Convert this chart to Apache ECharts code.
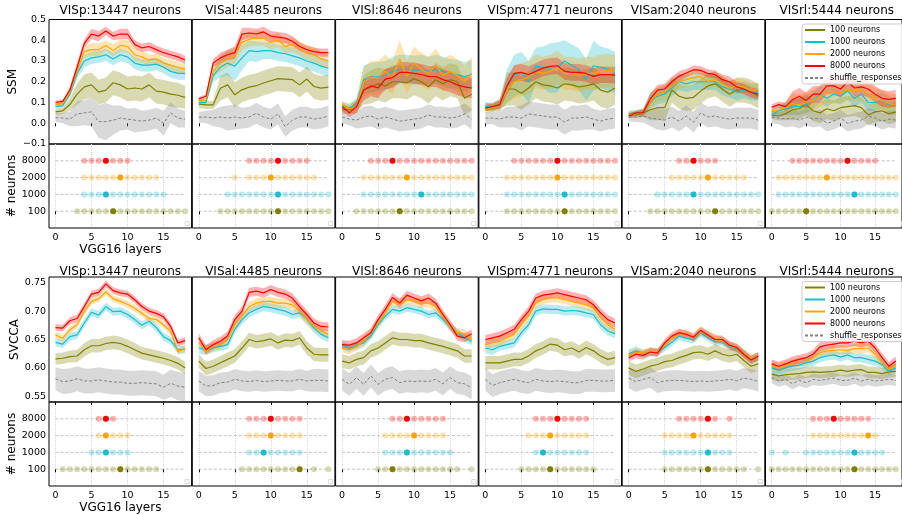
<!DOCTYPE html>
<html><head><meta charset="utf-8">
<script src="https://cdn.jsdelivr.net/npm/echarts@6/dist/echarts.min.js"></script>
<style>html,body{margin:0;padding:0;background:#fff}#c{width:902px;height:515px}</style>
</head><body><div id="c"></div>
<script>
// ---------- shared labels ----------
const layers = [0,1,2,3,4,5,6,7,8,9,10,11,12,13,14,15,16,17,18];
const xTicks = [0,5,10,15];
const sizeLabels = ['100','1000','2000','8000'];
const lineNames = ['100 neurons','1000 neurons','2000 neurons','8000 neurons','shuffle_responses'];
const areaTitles = ['VISp:13447 neurons','VISal:4485 neurons','VISl:8646 neurons','VISpm:4771 neurons','VISam:2040 neurons','VISrl:5444 neurons'];
const ssmTicks = [-0.1,0.0,0.1,0.2,0.3,0.4,0.5];
const svccaTicks = [0.55,0.60,0.65,0.70,0.75];

// ---------- SSM (rows: 100, 1000, 2000, 8000, shuffle) ----------
const ssmMean_VISp = [
 [0.055,0.06,0.09,0.14,0.175,0.185,0.15,0.16,0.195,0.185,0.165,0.17,0.165,0.185,0.155,0.15,0.14,0.135,0.125],
 [0.08,0.085,0.14,0.24,0.30,0.315,0.32,0.33,0.31,0.33,0.32,0.29,0.28,0.28,0.285,0.27,0.25,0.24,0.24],
 [0.09,0.095,0.15,0.25,0.345,0.355,0.355,0.375,0.35,0.375,0.37,0.33,0.32,0.305,0.31,0.29,0.28,0.27,0.26],
 [0.10,0.105,0.16,0.27,0.385,0.43,0.42,0.445,0.42,0.43,0.43,0.38,0.363,0.37,0.355,0.34,0.33,0.32,0.305],
 [0.027,0.025,0.02,0.045,0.05,0.055,0.008,0.008,0.015,0.025,0.02,0.015,0.01,0.015,0.025,0.0,0.05,0.025,0.02]];
const ssmSd_VISp = [
 [0.015,0.015,0.03,0.05,0.06,0.06,0.06,0.06,0.06,0.06,0.06,0.06,0.06,0.06,0.06,0.06,0.06,0.06,0.055],
 [0.01,0.01,0.015,0.025,0.03,0.03,0.03,0.03,0.03,0.03,0.03,0.03,0.03,0.03,0.03,0.03,0.03,0.03,0.03],
 [0.01,0.01,0.015,0.025,0.03,0.03,0.03,0.025,0.03,0.03,0.03,0.03,0.03,0.025,0.025,0.025,0.025,0.025,0.025],
 [0.01,0.01,0.015,0.02,0.02,0.025,0.025,0.02,0.02,0.025,0.025,0.02,0.02,0.02,0.02,0.02,0.02,0.02,0.02],
 [0.02,0.025,0.035,0.06,0.06,0.07,0.08,0.09,0.07,0.06,0.05,0.06,0.05,0.05,0.05,0.06,0.05,0.045,0.04]];
const ssmMean_VISal = [
 [0.092,0.089,0.089,0.169,0.185,0.137,0.161,0.174,0.181,0.194,0.205,0.215,0.213,0.21,0.185,0.213,0.177,0.169,0.174],
 [0.10,0.10,0.23,0.27,0.29,0.275,0.315,0.35,0.345,0.35,0.35,0.34,0.335,0.325,0.315,0.30,0.29,0.275,0.265],
 [0.11,0.113,0.25,0.29,0.31,0.325,0.39,0.405,0.41,0.41,0.39,0.40,0.37,0.38,0.36,0.34,0.33,0.31,0.30],
 [0.118,0.13,0.29,0.315,0.33,0.34,0.43,0.435,0.43,0.44,0.42,0.415,0.41,0.395,0.37,0.355,0.345,0.34,0.34],
 [0.029,0.03,0.025,0.03,0.025,0.03,0.025,0.03,0.048,0.03,0.02,0.045,-0.016,0.015,0.03,0.03,0.02,0.025,0.035]];
const ssmSd_VISal = [
 [0.02,0.02,0.02,0.06,0.06,0.06,0.06,0.06,0.06,0.06,0.06,0.06,0.06,0.06,0.06,0.06,0.06,0.06,0.06],
 [0.01,0.01,0.03,0.05,0.06,0.07,0.06,0.05,0.05,0.04,0.04,0.04,0.04,0.04,0.04,0.04,0.04,0.04,0.04],
 [0.01,0.01,0.03,0.04,0.04,0.04,0.04,0.035,0.035,0.035,0.035,0.035,0.035,0.035,0.035,0.035,0.035,0.035,0.035],
 [0.01,0.01,0.02,0.025,0.025,0.03,0.03,0.025,0.025,0.025,0.025,0.025,0.025,0.025,0.02,0.02,0.02,0.02,0.02],
 [0.025,0.03,0.04,0.05,0.06,0.06,0.05,0.05,0.05,0.05,0.05,0.05,0.05,0.05,0.05,0.05,0.05,0.05,0.05]];
const ssmMean_VISl = [
 [0.065,0.065,0.08,0.16,0.175,0.19,0.18,0.20,0.20,0.195,0.215,0.20,0.175,0.21,0.19,0.21,0.20,0.12,0.14],
 [0.08,0.075,0.09,0.21,0.22,0.225,0.23,0.25,0.26,0.26,0.255,0.26,0.25,0.26,0.25,0.24,0.235,0.225,0.235],
 [0.09,0.07,0.08,0.20,0.22,0.22,0.25,0.22,0.31,0.225,0.29,0.26,0.24,0.28,0.23,0.25,0.23,0.20,0.24],
 [0.08,0.05,0.08,0.16,0.18,0.17,0.213,0.22,0.245,0.245,0.24,0.235,0.226,0.225,0.21,0.20,0.185,0.175,0.17],
 [0.03,0.02,0.015,0.03,0.035,0.02,0.03,0.02,0.01,0.015,0.02,0.025,0.04,0.03,0.03,0.025,0.03,0.045,0.02]];
const ssmSd_VISl = [
 [0.02,0.02,0.03,0.07,0.08,0.08,0.08,0.08,0.08,0.08,0.08,0.08,0.08,0.08,0.08,0.08,0.08,0.08,0.08],
 [0.02,0.02,0.03,0.07,0.07,0.07,0.07,0.07,0.07,0.07,0.07,0.07,0.07,0.07,0.07,0.07,0.07,0.07,0.07],
 [0.02,0.02,0.03,0.07,0.08,0.08,0.08,0.08,0.09,0.08,0.08,0.08,0.08,0.08,0.08,0.08,0.08,0.08,0.08],
 [0.02,0.02,0.03,0.05,0.05,0.05,0.05,0.05,0.05,0.05,0.05,0.05,0.05,0.05,0.05,0.05,0.05,0.05,0.05],
 [0.03,0.03,0.04,0.05,0.05,0.05,0.05,0.05,0.05,0.05,0.05,0.05,0.05,0.05,0.05,0.05,0.05,0.05,0.05]];
const ssmMean_VISpm = [
 [0.08,0.075,0.09,0.165,0.165,0.145,0.17,0.20,0.185,0.18,0.17,0.19,0.185,0.175,0.18,0.19,0.16,0.15,0.17],
 [0.08,0.08,0.09,0.18,0.23,0.245,0.20,0.275,0.27,0.265,0.27,0.30,0.28,0.26,0.21,0.277,0.27,0.26,0.245],
 [0.07,0.075,0.09,0.16,0.20,0.21,0.22,0.25,0.24,0.25,0.27,0.24,0.24,0.23,0.24,0.24,0.25,0.255,0.25],
 [0.073,0.08,0.09,0.18,0.24,0.245,0.235,0.25,0.266,0.274,0.277,0.25,0.245,0.245,0.24,0.226,0.234,0.234,0.232],
 [0.025,0.025,0.02,0.03,0.03,0.025,0.045,0.04,0.035,0.03,0.03,0.005,0.025,0.025,0.03,0.02,0.01,0.02,0.025]];
const ssmSd_VISpm = [
 [0.02,0.02,0.02,0.08,0.08,0.08,0.08,0.08,0.08,0.08,0.08,0.08,0.08,0.08,0.08,0.08,0.08,0.08,0.08],
 [0.02,0.02,0.03,0.08,0.10,0.10,0.10,0.09,0.10,0.12,0.12,0.10,0.10,0.10,0.10,0.12,0.10,0.10,0.10],
 [0.02,0.02,0.03,0.06,0.08,0.08,0.08,0.08,0.08,0.08,0.08,0.08,0.08,0.08,0.08,0.08,0.08,0.08,0.08],
 [0.015,0.015,0.02,0.04,0.04,0.04,0.04,0.04,0.04,0.04,0.04,0.04,0.04,0.04,0.04,0.04,0.04,0.04,0.04],
 [0.03,0.03,0.04,0.05,0.05,0.06,0.06,0.06,0.06,0.06,0.06,0.06,0.06,0.06,0.06,0.05,0.05,0.05,0.05]];
const ssmMean_VISam = [
 [0.04,0.04,0.05,0.065,0.075,0.075,0.16,0.13,0.12,0.125,0.155,0.18,0.19,0.165,0.14,0.16,0.16,0.15,0.13],
 [0.045,0.05,0.05,0.11,0.13,0.14,0.17,0.20,0.19,0.20,0.20,0.20,0.20,0.175,0.165,0.15,0.16,0.15,0.15],
 [0.04,0.045,0.05,0.11,0.14,0.15,0.18,0.20,0.21,0.22,0.225,0.20,0.21,0.19,0.17,0.18,0.175,0.16,0.16],
 [0.035,0.05,0.05,0.118,0.16,0.165,0.20,0.226,0.242,0.258,0.255,0.24,0.234,0.21,0.20,0.175,0.165,0.148,0.14],
 [0.03,0.03,0.035,0.025,0.02,0.015,0.03,0.01,0.035,0.005,0.05,0.03,0.035,0.025,0.02,0.025,0.025,0.025,0.015]];
const ssmSd_VISam = [
 [0.015,0.015,0.02,0.05,0.06,0.06,0.06,0.06,0.06,0.06,0.06,0.06,0.06,0.06,0.06,0.06,0.06,0.06,0.06],
 [0.015,0.015,0.02,0.04,0.04,0.04,0.04,0.04,0.04,0.04,0.04,0.04,0.04,0.04,0.04,0.04,0.04,0.04,0.04],
 [0.015,0.015,0.02,0.035,0.035,0.035,0.035,0.035,0.035,0.035,0.035,0.035,0.035,0.035,0.035,0.035,0.035,0.035,0.035],
 [0.01,0.01,0.015,0.025,0.025,0.025,0.025,0.025,0.02,0.02,0.02,0.02,0.02,0.025,0.025,0.025,0.025,0.025,0.025],
 [0.02,0.025,0.03,0.04,0.05,0.05,0.05,0.05,0.05,0.05,0.05,0.05,0.05,0.05,0.05,0.05,0.05,0.05,0.05]];
const ssmMean_VISrl = [
 [0.04,0.035,0.045,0.065,0.07,0.09,0.06,0.05,0.07,0.06,0.075,0.08,0.085,0.075,0.04,0.055,0.06,0.045,0.055],
 [0.04,0.06,0.07,0.08,0.08,0.09,0.11,0.14,0.12,0.14,0.13,0.155,0.12,0.14,0.10,0.10,0.11,0.09,0.085],
 [0.06,0.065,0.075,0.095,0.09,0.10,0.11,0.13,0.145,0.145,0.15,0.16,0.16,0.16,0.14,0.12,0.11,0.095,0.09],
 [0.077,0.09,0.08,0.113,0.13,0.11,0.14,0.14,0.18,0.18,0.165,0.20,0.17,0.175,0.165,0.14,0.12,0.115,0.12],
 [0.03,0.025,0.02,0.025,0.015,0.03,0.02,0.025,0.0,0.01,0.025,0.0,0.01,0.015,0.035,0.025,0.01,0.02,0.015]];
const ssmSd_VISrl = [
 [0.02,0.02,0.03,0.05,0.05,0.05,0.05,0.05,0.05,0.05,0.05,0.05,0.05,0.05,0.05,0.05,0.05,0.05,0.05],
 [0.02,0.02,0.03,0.04,0.04,0.04,0.04,0.04,0.04,0.04,0.04,0.04,0.04,0.04,0.04,0.04,0.04,0.04,0.04],
 [0.02,0.02,0.03,0.05,0.05,0.05,0.05,0.05,0.05,0.05,0.05,0.05,0.05,0.05,0.05,0.05,0.05,0.05,0.05],
 [0.015,0.015,0.02,0.04,0.04,0.04,0.04,0.04,0.04,0.04,0.04,0.04,0.04,0.04,0.04,0.04,0.04,0.04,0.04],
 [0.03,0.03,0.04,0.04,0.04,0.04,0.04,0.04,0.04,0.04,0.04,0.04,0.04,0.04,0.04,0.04,0.04,0.04,0.04]];

// ---------- SVCCA ----------
const svMean_VISp = [
 [0.616,0.617,0.62,0.621,0.632,0.639,0.639,0.643,0.645,0.643,0.638,0.632,0.626,0.623,0.62,0.617,0.613,0.608,0.60],
 [0.645,0.642,0.655,0.658,0.679,0.698,0.693,0.708,0.699,0.70,0.694,0.685,0.675,0.682,0.671,0.655,0.648,0.632,0.633],
 [0.658,0.652,0.667,0.676,0.699,0.717,0.722,0.734,0.722,0.717,0.712,0.705,0.696,0.687,0.685,0.676,0.664,0.629,0.634],
 [0.671,0.67,0.683,0.687,0.708,0.73,0.733,0.748,0.736,0.732,0.73,0.72,0.708,0.70,0.696,0.69,0.673,0.644,0.648],
 [0.581,0.576,0.577,0.581,0.577,0.577,0.579,0.577,0.575,0.575,0.573,0.573,0.574,0.573,0.572,0.566,0.573,0.568,0.566]];
const svSd_VISp = [
 [0.01,0.01,0.01,0.011,0.012,0.012,0.012,0.012,0.012,0.012,0.012,0.012,0.011,0.011,0.011,0.011,0.011,0.011,0.011],
 [0.007,0.007,0.007,0.007,0.007,0.007,0.007,0.007,0.007,0.007,0.007,0.007,0.007,0.007,0.007,0.007,0.007,0.007,0.007],
 [0.006,0.006,0.006,0.006,0.006,0.006,0.006,0.006,0.006,0.006,0.006,0.006,0.006,0.006,0.006,0.006,0.006,0.006,0.006],
 [0.006,0.006,0.006,0.006,0.006,0.006,0.006,0.006,0.006,0.006,0.006,0.006,0.006,0.006,0.006,0.006,0.006,0.006,0.006],
 [0.02,0.022,0.022,0.022,0.022,0.022,0.022,0.022,0.022,0.022,0.022,0.022,0.022,0.022,0.022,0.022,0.024,0.025,0.025]];
const svMean_VISal = [
 [0.612,0.599,0.603,0.609,0.615,0.621,0.635,0.65,0.646,0.648,0.651,0.644,0.649,0.648,0.653,0.635,0.624,0.623,0.623],
 [0.635,0.632,0.635,0.638,0.641,0.668,0.685,0.697,0.703,0.708,0.706,0.703,0.70,0.694,0.697,0.685,0.67,0.659,0.653],
 [0.644,0.63,0.638,0.641,0.65,0.676,0.691,0.708,0.714,0.717,0.717,0.714,0.714,0.711,0.70,0.685,0.673,0.665,0.659],
 [0.653,0.632,0.641,0.647,0.656,0.685,0.70,0.733,0.735,0.732,0.738,0.733,0.73,0.723,0.708,0.694,0.679,0.673,0.672],
 [0.577,0.568,0.569,0.574,0.575,0.58,0.577,0.576,0.578,0.576,0.577,0.578,0.577,0.577,0.58,0.577,0.578,0.578,0.577]];
const svSd_VISal = [
 [0.012,0.012,0.012,0.012,0.012,0.012,0.012,0.012,0.012,0.012,0.012,0.012,0.012,0.012,0.012,0.012,0.012,0.012,0.012],
 [0.01,0.009,0.008,0.008,0.008,0.008,0.008,0.008,0.008,0.008,0.008,0.008,0.008,0.008,0.008,0.008,0.008,0.008,0.008],
 [0.008,0.008,0.008,0.008,0.008,0.008,0.008,0.008,0.008,0.008,0.008,0.008,0.008,0.008,0.008,0.008,0.008,0.008,0.008],
 [0.008,0.008,0.008,0.008,0.008,0.008,0.008,0.008,0.008,0.008,0.008,0.008,0.008,0.008,0.008,0.008,0.008,0.008,0.008],
 [0.018,0.018,0.018,0.018,0.018,0.018,0.018,0.018,0.018,0.018,0.018,0.018,0.018,0.018,0.018,0.018,0.02,0.02,0.02]];
const svMean_VISl = [
 [0.612,0.609,0.615,0.618,0.63,0.635,0.644,0.653,0.65,0.65,0.648,0.648,0.644,0.641,0.638,0.634,0.63,0.621,0.621],
 [0.64,0.635,0.64,0.644,0.656,0.676,0.691,0.703,0.70,0.706,0.703,0.70,0.694,0.697,0.685,0.673,0.662,0.653,0.647],
 [0.635,0.632,0.638,0.647,0.662,0.679,0.697,0.717,0.713,0.72,0.717,0.714,0.714,0.708,0.691,0.673,0.662,0.66,0.65],
 [0.641,0.64,0.644,0.653,0.662,0.685,0.703,0.724,0.714,0.728,0.723,0.718,0.723,0.714,0.694,0.676,0.656,0.653,0.66],
 [0.58,0.571,0.583,0.571,0.586,0.571,0.58,0.583,0.574,0.577,0.576,0.577,0.576,0.58,0.572,0.583,0.574,0.572,0.565]];
const svSd_VISl = [
 [0.012,0.012,0.012,0.012,0.012,0.012,0.012,0.012,0.012,0.012,0.012,0.012,0.012,0.012,0.012,0.012,0.012,0.012,0.012],
 [0.007,0.007,0.007,0.007,0.007,0.007,0.007,0.007,0.007,0.007,0.007,0.007,0.007,0.007,0.007,0.007,0.007,0.007,0.007],
 [0.008,0.008,0.008,0.008,0.008,0.008,0.008,0.008,0.008,0.008,0.008,0.008,0.008,0.008,0.008,0.008,0.008,0.008,0.008],
 [0.008,0.008,0.008,0.008,0.008,0.008,0.008,0.008,0.008,0.008,0.008,0.008,0.008,0.008,0.008,0.008,0.008,0.008,0.008],
 [0.02,0.02,0.02,0.02,0.02,0.02,0.02,0.02,0.02,0.02,0.02,0.02,0.02,0.02,0.02,0.02,0.02,0.02,0.02]];
const svMean_VISpm = [
 [0.609,0.609,0.609,0.612,0.615,0.615,0.621,0.63,0.635,0.642,0.64,0.632,0.635,0.628,0.636,0.63,0.621,0.615,0.618],
 [0.635,0.632,0.638,0.641,0.644,0.662,0.676,0.70,0.704,0.703,0.703,0.70,0.701,0.70,0.697,0.694,0.676,0.665,0.66],
 [0.641,0.644,0.647,0.653,0.659,0.676,0.691,0.714,0.72,0.723,0.723,0.72,0.717,0.714,0.711,0.706,0.688,0.676,0.668],
 [0.65,0.653,0.656,0.662,0.668,0.685,0.70,0.723,0.728,0.73,0.732,0.729,0.726,0.723,0.72,0.711,0.697,0.685,0.679],
 [0.58,0.569,0.574,0.577,0.58,0.576,0.574,0.58,0.577,0.576,0.577,0.576,0.574,0.574,0.578,0.578,0.577,0.577,0.578]];
const svSd_VISpm = [
 [0.012,0.012,0.012,0.012,0.012,0.012,0.012,0.012,0.012,0.012,0.012,0.012,0.012,0.012,0.012,0.012,0.012,0.012,0.012],
 [0.009,0.009,0.008,0.008,0.008,0.008,0.008,0.008,0.008,0.008,0.008,0.008,0.008,0.008,0.008,0.008,0.008,0.008,0.008],
 [0.008,0.008,0.008,0.008,0.008,0.008,0.008,0.008,0.008,0.008,0.008,0.008,0.008,0.008,0.008,0.008,0.008,0.008,0.008],
 [0.008,0.008,0.008,0.008,0.008,0.008,0.008,0.008,0.008,0.008,0.008,0.008,0.008,0.008,0.008,0.008,0.008,0.008,0.008],
 [0.02,0.02,0.02,0.02,0.02,0.02,0.02,0.02,0.02,0.02,0.02,0.02,0.02,0.02,0.02,0.02,0.02,0.02,0.02]];
const svMean_VISam = [
 [0.60,0.594,0.598,0.603,0.606,0.611,0.613,0.618,0.622,0.627,0.628,0.624,0.63,0.624,0.621,0.624,0.613,0.603,0.607],
 [0.625,0.63,0.625,0.628,0.628,0.636,0.645,0.656,0.652,0.65,0.662,0.654,0.646,0.646,0.638,0.634,0.626,0.615,0.62],
 [0.622,0.628,0.626,0.63,0.628,0.64,0.652,0.66,0.661,0.652,0.664,0.658,0.652,0.648,0.64,0.635,0.626,0.617,0.62],
 [0.618,0.624,0.622,0.628,0.626,0.644,0.656,0.662,0.659,0.654,0.666,0.658,0.65,0.65,0.64,0.636,0.624,0.614,0.621],
 [0.582,0.576,0.58,0.583,0.574,0.577,0.578,0.578,0.577,0.576,0.577,0.576,0.577,0.578,0.58,0.577,0.582,0.58,0.576]];
const svSd_VISam = [
 [0.012,0.012,0.012,0.012,0.012,0.012,0.012,0.012,0.012,0.012,0.012,0.012,0.012,0.012,0.012,0.012,0.012,0.012,0.012],
 [0.008,0.008,0.007,0.007,0.007,0.007,0.007,0.007,0.007,0.007,0.007,0.007,0.007,0.007,0.007,0.007,0.007,0.007,0.008],
 [0.007,0.007,0.007,0.007,0.007,0.007,0.007,0.007,0.007,0.007,0.007,0.007,0.007,0.007,0.007,0.007,0.007,0.007,0.007],
 [0.007,0.007,0.007,0.007,0.007,0.007,0.007,0.007,0.007,0.007,0.007,0.007,0.007,0.007,0.007,0.007,0.007,0.007,0.007],
 [0.018,0.018,0.018,0.018,0.018,0.018,0.018,0.018,0.018,0.018,0.018,0.018,0.018,0.018,0.018,0.018,0.018,0.018,0.018]];
const svMean_VISrl = [
 [0.589,0.586,0.588,0.589,0.59,0.592,0.593,0.592,0.593,0.594,0.596,0.594,0.596,0.597,0.592,0.592,0.59,0.593,0.594],
 [0.60,0.596,0.60,0.603,0.605,0.609,0.612,0.618,0.621,0.623,0.619,0.623,0.618,0.618,0.615,0.612,0.606,0.594,0.60],
 [0.605,0.601,0.605,0.607,0.611,0.612,0.618,0.627,0.63,0.631,0.632,0.631,0.634,0.634,0.635,0.624,0.609,0.597,0.605],
 [0.607,0.603,0.607,0.612,0.615,0.618,0.624,0.637,0.64,0.642,0.644,0.644,0.647,0.644,0.647,0.635,0.618,0.603,0.612],
 [0.583,0.577,0.58,0.572,0.578,0.574,0.58,0.578,0.58,0.582,0.578,0.578,0.582,0.577,0.58,0.577,0.578,0.58,0.578]];
const svSd_VISrl = [
 [0.01,0.01,0.01,0.01,0.01,0.01,0.01,0.01,0.01,0.01,0.01,0.01,0.01,0.01,0.01,0.01,0.01,0.01,0.01],
 [0.008,0.008,0.008,0.008,0.008,0.008,0.008,0.008,0.008,0.008,0.008,0.008,0.008,0.008,0.008,0.008,0.008,0.008,0.008],
 [0.008,0.008,0.008,0.008,0.008,0.008,0.008,0.008,0.008,0.008,0.008,0.008,0.008,0.008,0.008,0.008,0.008,0.008,0.008],
 [0.008,0.008,0.008,0.008,0.008,0.008,0.008,0.008,0.008,0.008,0.008,0.008,0.008,0.008,0.008,0.008,0.008,0.008,0.008],
 [0.01,0.01,0.01,0.01,0.01,0.01,0.01,0.01,0.01,0.01,0.01,0.01,0.01,0.01,0.01,0.01,0.01,0.01,0.01]];

// ---------- significant layers (rows: 100, 1000, 2000, 8000) and best layer ----------
const ssmDots_VISp = [[3,4,5,6,7,8,9,10,11,12,13,14,15,16,17,18],[4,5,6,7,8,9,10,11,12,13,14,15],[4,5,6,7,8,9,10,11,12,13,14],[4,5,6,7,8,9,10]];
const ssmBest_VISp = [8,7,9,7];
const ssmDots_VISal = [[3,4,5,6,7,8,9,10,11,12,13,14,15,16,17,18],[4,5,6,7,8,9,10,11,12,13,14,15,16,17,18],[5,7,8,9,10,11,12,13,14,15,16],[7,8,9,10,11,12,13,14,15]];
const ssmBest_VISal = [11,11,10,11];
const ssmDots_VISl = [[2,3,4,5,6,7,8,9,10,11,12,13,14,15,16,17,18],[3,4,5,6,7,8,9,10,11,12,13,14,15,16,17,18],[3,4,5,6,7,8,9,10,11,12,13,14,15,16,17,18],[4,5,6,7,8,9,10,11,12,13,14,15,16,17,18]];
const ssmBest_VISl = [8,11,9,7];
const ssmDots_VISpm = [[3,4,5,6,7,8,9,10,11,12,13,14,15,16,17,18],[3,4,5,6,7,8,9,10,11,12,13,14,15,16,17,18],[3,4,5,6,7,8,9,10,11,12,13,14,15,16,17,18],[4,5,6,7,8,9,10,11,12,13,14,15,16,17,18]];
const ssmBest_VISpm = [11,11,10,10];
const ssmDots_VISam = [[3,4,5,6,7,8,9,10,11,12,13,14,15,16,17,18],[4,5,6,7,8,9,10,11,12,13,14,15,16,17,18],[6,7,8,9,10,11,12,13,14,15,16],[7,8,9,10,11,12]];
const ssmBest_VISam = [12,9,11,9];
const ssmDots_VISrl = [[0,1,2,3,4,5,6,7,8,9,10,11,12,13,14,15,16,17,18],[1,2,3,4,5,6,7,8,9,10,11,12,13,14,15,16,17,18],[1,2,3,4,5,6,7,8,9,10,11,12,13,14,15,16,17,18],[3,4,5,6,7,8,9,10,11,12,13,14,15]];
const ssmBest_VISrl = [5,12,8,11];

const svDots_VISp = [[1,2,3,4,5,6,7,8,9,10,11,12,13,14],[5,6,7,8,9,10],[6,7,8,9,10],[6,7,8]];
const svBest_VISp = [9,7,7,7];
const svDots_VISal = [[6,7,8,9,10,11,12,13,14,16,18],[7,8,9,10,11,12,13,14],[7,8,9,10,11,12,13,14],[7,8,9,10,11,12,13,14]];
const svBest_VISal = [14,9,10,10];
const svDots_VISl = [[5,6,7,8,9,10,11,12,13,14,15,16,18],[6,7,8,9,10,11,12,13,14,15],[6,7,8,9,10,11,12,13,14],[7,8,9,10,11,12,13,14]];
const svBest_VISl = [7,9,10,9];
const svDots_VISpm = [[5,6,7,8,9,10,11,12,13,14,15],[7,8,9,10,11,12,13,14],[6,7,8,9,10,11,12,13,14],[7,8,9,10,11,12,13,14]];
const svBest_VISpm = [9,8,9,10];
const svDots_VISam = [[5,6,7,8,9,10,11,12,13,14,15,16,18],[5,6,7,8,9,10,11,12,13,14],[5,6,7,8,9,10,11,12,13,14],[7,8,9,10,11,12,14]];
const svBest_VISam = [11,11,9,11];
const svDots_VISrl = [[0,1,2,3,4,5,6,7,8,9,10,11,12,13,14,15,16,17,18],[0,2,5,6,7,8,9,10,11,12,13,14,15,16],[6,7,8,9,10,11,12,13,14,15],[6,7,8,9,10,11,12,13,14]];
const svBest_VISrl = [12,12,14,9];

// ---------- build ----------
const colors = ['#808000','#17becf','#ffa500','#ff0000','#808080'];
const FONT = 'DejaVu Sans';
const fmtSSM = v => (v < -1e-9 ? '\u2212' : '') + Math.abs(v).toFixed(1);
const fmtSV = v => v.toFixed(2);

const rows = [
  {name:'SSM', means:[ssmMean_VISp,ssmMean_VISal,ssmMean_VISl,ssmMean_VISpm,ssmMean_VISam,ssmMean_VISrl],
   sds:[ssmSd_VISp,ssmSd_VISal,ssmSd_VISl,ssmSd_VISpm,ssmSd_VISam,ssmSd_VISrl],
   dots:[ssmDots_VISp,ssmDots_VISal,ssmDots_VISl,ssmDots_VISpm,ssmDots_VISam,ssmDots_VISrl],
   best:[ssmBest_VISp,ssmBest_VISal,ssmBest_VISl,ssmBest_VISpm,ssmBest_VISam,ssmBest_VISrl],
   yMin:-0.1, yMax:0.5, ticks:ssmTicks, fmt:fmtSSM, top:19.5, h:124.5, dTop:144, dH:84, titleTop:5, legTop:24},
  {name:'SVCCA', means:[svMean_VISp,svMean_VISal,svMean_VISl,svMean_VISpm,svMean_VISam,svMean_VISrl],
   sds:[svSd_VISp,svSd_VISal,svSd_VISl,svSd_VISpm,svSd_VISam,svSd_VISrl],
   dots:[svDots_VISp,svDots_VISal,svDots_VISl,svDots_VISpm,svDots_VISam,svDots_VISrl],
   best:[svBest_VISp,svBest_VISal,svBest_VISl,svBest_VISpm,svBest_VISam,svBest_VISrl],
   yMin:0.54, yMax:0.76, ticks:svccaTicks, fmt:fmtSV, top:277, h:125, dTop:402, dH:84, titleTop:265.5, legTop:281.5}
];

const grid=[], xAxis=[], yAxis=[], series=[], title=[], graphic=[];
const colL = c => 49 + 143.3*c;
const W = 142.6;
const XMIN = -0.9, XMAX = 18.9;

// shaded mean +/- sd band, drawn as one polygon through the axes' own coord()
function bandSeries(gi, lo, hi, color) {
  return {type:'custom', xAxisIndex:gi, yAxisIndex:gi, silent:true, z:1,
    data: layers.map((x,i)=>[x, lo[i], hi[i]]),
    encode:{x:0, y:[1,2]},
    renderItem:(params, api) => {
      if (params.dataIndex !== 0) return null;
      const pts = [];
      for (let i = 0; i < layers.length; i++) pts.push(api.coord([layers[i], hi[i]]));
      for (let i = layers.length-1; i >= 0; i--) pts.push(api.coord([layers[i], lo[i]]));
      const cs = params.coordSys;
      return {type:'polygon', shape:{points:pts}, style:{fill:color, opacity:0.3},
        clipPath:{type:'rect', shape:{x:cs.x, y:cs.y, width:cs.width, height:cs.height}}};
    }};
}

rows.forEach((R, r) => {
  for (let c = 0; c < 6; c++) {
    const left = colL(c);
    // ---- line panel
    const gL = grid.length;
    grid.push({left, top:R.top, width:W, height:R.h, show:true, borderColor:'#000', borderWidth:1, backgroundColor:'transparent'});
    xAxis.push({type:'value', gridIndex:gL, min:XMIN, max:XMAX, axisLine:{show:false},
      axisTick:{show:true, customValues:xTicks, length:3, lineStyle:{color:'#000'}},
      axisLabel:{show:false}, splitLine:{show:false}});
    yAxis.push({type:'value', gridIndex:gL, min:R.yMin, max:R.yMax, axisLine:{show:false}, axisTick:{show:false},
      splitLine:{show:false},
      axisLabel:{show:c===0, customValues:R.ticks, formatter:R.fmt, fontSize:9.5, color:'#000', fontFamily:FONT, margin:3},
      name: c===0 ? R.name : '', nameLocation:'middle', nameGap:20, nameRotate:90,
      nameTextStyle:{fontSize:12, color:'#000', fontFamily:FONT}});
    const mean = R.means[c], sd = R.sds[c];
    for (let k = 0; k < 5; k++) {
      const lo = mean[k].map((m,i)=>m - sd[k][i]);
      const hi = mean[k].map((m,i)=>m + sd[k][i]);
      series.push(bandSeries(gL, lo, hi, colors[k]));
    }
    for (let k = 0; k < 5; k++) {
      series.push({name:lineNames[k], type:'line', xAxisIndex:gL, yAxisIndex:gL, symbol:'none', silent:true,
        lineStyle:{color:colors[k], width: k===4?1:1.2, type: k===4?[3,2]:'solid'}, itemStyle:{color:colors[k]}, z:3,
        data: layers.map((x,i)=>[x, mean[k][i]])});
    }
    // ---- dot panel
    const gD = grid.length;
    grid.push({left, top:R.dTop, width:W, height:R.dH, show:true, borderColor:'#000', borderWidth:1, backgroundColor:'transparent'});
    xAxis.push({type:'value', gridIndex:gD, min:XMIN, max:XMAX, axisLine:{show:false},
      axisTick:{show:true, customValues:xTicks, length:3, lineStyle:{color:'#000'}},
      axisLabel:{show:true, customValues:xTicks, fontSize:9.5, color:'#000', fontFamily:FONT, margin:5},
      splitLine:{show:true, lineStyle:{color:'#d8d8d8', type:'dotted', width:1}},
      name: c===0 ? 'VGG16 layers' : '', nameLocation:'middle', nameGap:11,
      nameTextStyle:{fontSize:12, color:'#000', fontFamily:FONT}});
    yAxis.push({type:'value', gridIndex:gD, min:-1, max:4, axisLine:{show:false}, axisTick:{show:false}, splitLine:{show:false},
      axisLabel:{show:c===0, customValues:[0,1,2,3], formatter:v=>sizeLabels[Math.round(v)], fontSize:9.5, color:'#000', fontFamily:FONT, margin:3},
      name: c===0 ? '# neurons' : '', nameLocation:'middle', nameGap:20, nameRotate:90,
      nameTextStyle:{fontSize:12, color:'#000', fontFamily:FONT}});
    const dots = R.dots[c], best = R.best[c];
    for (let k = 0; k < 4; k++) {
      series.push({type:'line', xAxisIndex:gD, yAxisIndex:gD, symbol:'none', silent:true, z:1,
        lineStyle:{color:'#b4b4b4', width:0.8, type:[3,2]},
        data:[[layers[0],k],[layers[layers.length-1],k]]});
      series.push({type:'scatter', xAxisIndex:gD, yAxisIndex:gD, symbolSize:6, silent:true, z:2,
        itemStyle:{color:colors[k], opacity:0.3}, data: dots[k].map(x=>[x,k])});
      series.push({type:'scatter', xAxisIndex:gD, yAxisIndex:gD, symbolSize:6, silent:true, z:4,
        itemStyle:{color:colors[k], opacity:1}, data:[[best[k],k]]});
    }
    graphic.push({type:'rect', shape:{x:left+W-6.5, y:R.dTop+R.dH-6.5, width:4, height:4},
      style:{fill:'#fff', stroke:'#dcdcdc', lineWidth:1}, z:10});
    title.push({text:areaTitles[c], left:left+W/2, top:R.titleTop, textAlign:'center', padding:0,
      textStyle:{fontSize:12, fontWeight:'normal', color:'#000', fontFamily:FONT}});
  }
});

const legend = rows.map(R => ({data:lineNames, left:802, top:R.legTop, orient:'vertical', selectedMode:false,
  itemWidth:20, itemHeight:8, itemGap:4, padding:[2,4,2,2],
  itemStyle:{opacity:0},
  textStyle:{fontSize:8, color:'#000', fontFamily:FONT},
  backgroundColor:'rgba(255,255,255,0.8)', borderColor:'#cccccc', borderWidth:1, borderRadius:3}));

const chart = echarts.init(document.getElementById('c'), null, {renderer:'canvas'});
chart.setOption({animation:false, textStyle:{fontFamily:FONT}, grid, xAxis, yAxis, series, title, legend, graphic});
</script></body></html>
